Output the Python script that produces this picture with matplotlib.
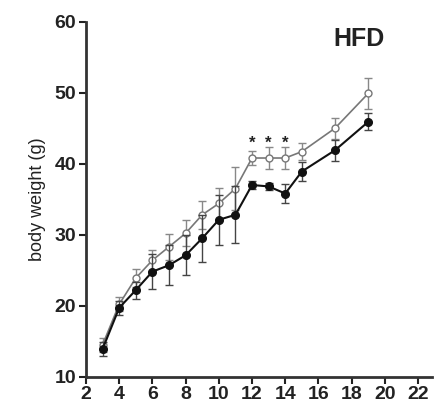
import matplotlib
matplotlib.use("Agg")
import matplotlib.pyplot as plt

weeks = [3, 4, 5, 6, 7, 8, 9, 10, 11, 12, 13, 14, 15, 17, 19]
open_mean = [14.5, 20.2, 23.9, 26.4, 28.3, 30.2, 32.8, 34.4, 36.5, 40.8, 40.8, 40.8, 41.7, 45.0, 49.9]
open_err = [1.0, 1.0, 1.2, 1.5, 1.8, 1.8, 2.0, 2.2, 3.0, 1.0, 1.5, 1.5, 1.2, 1.5, 2.2]
filled_mean = [13.9, 19.7, 22.2, 24.8, 25.7, 27.1, 29.5, 32.1, 32.8, 37.0, 36.8, 35.8, 38.9, 41.9, 45.9]
filled_err = [1.0, 1.0, 1.2, 2.5, 2.8, 2.8, 3.3, 3.5, 4.0, 0.5, 0.5, 1.3, 1.3, 1.5, 1.2]
star_weeks = [12, 13, 14]
star_y = [42.9, 42.9, 42.9]
x_ticks = [2, 4, 6, 8, 10, 12, 14, 16, 18, 20, 22]
y_ticks = [10, 20, 30, 40, 50, 60]

fam = ['Liberation Sans Narrow', 'Liberation Sans', 'DejaVu Sans']
plt.rcParams['font.family'] = fam

fig = plt.figure(figsize=(4.34, 4.08), dpi=100)
ax = fig.add_axes([86/434, 1-376.7/408, (432-86)/434, (376.7-21.7)/408])

ax.errorbar(weeks, open_mean, yerr=open_err, color='#777777', ecolor='#888888',
            marker='o', markersize=5, markerfacecolor='white', markeredgecolor='#777777',
            linewidth=1.2, elinewidth=1, capsize=3, zorder=2)
ax.errorbar(weeks, filled_mean, yerr=filled_err, color='#111111', ecolor='#444444',
            marker='o', markersize=5.5, markerfacecolor='#111111', markeredgecolor='#111111',
            linewidth=1.5, elinewidth=1, capsize=3, zorder=3)
for xs, ys in zip(star_weeks, star_y):
    ax.text(xs, ys, '*', ha='center', va='center', fontsize=12, fontweight='bold', color='#222222')

ax.set_xlim(2, 22.84)
ax.set_ylim(10, 60)
ax.set_xticks(x_ticks)
ax.set_yticks(y_ticks)
ax.spines['top'].set_visible(False)
ax.spines['right'].set_visible(False)
for s in ['left', 'bottom']:
    ax.spines[s].set_linewidth(2)
    ax.spines[s].set_color('#333333')
ax.tick_params(axis='both', width=1.5, length=5, labelsize=14, colors='#222222', pad=2)
for lab in ax.get_xticklabels() + ax.get_yticklabels():
    lab.set_fontweight('bold')
ax.set_ylabel('body weight (g)', fontsize=13, color='#222222', labelpad=6)
ax.text(0.79, 0.985, 'HFD', transform=ax.transAxes, fontsize=18, fontweight='bold',
        ha='center', va='top', color='#222222', family=['Liberation Sans', 'DejaVu Sans'])

fig.savefig('out.png', dpi=100)
